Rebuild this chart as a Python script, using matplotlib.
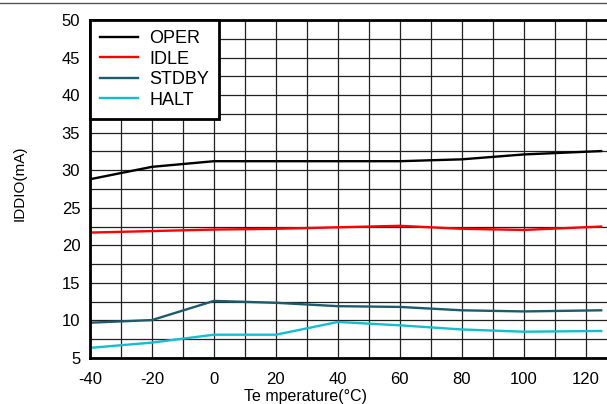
import matplotlib
matplotlib.use("Agg")
import matplotlib.pyplot as plt
from matplotlib.lines import Line2D

plt.rcParams['font.family'] = ['Liberation Sans', 'DejaVu Sans']
plt.rcParams['axes.unicode_minus'] = False

temps = [-40, -20, 0, 20, 40, 60, 80, 100, 125]
oper = [28.8, 30.45, 31.2, 31.2, 31.2, 31.2, 31.45, 32.1, 32.55]
idle = [21.7, 21.9, 22.1, 22.2, 22.4, 22.6, 22.2, 22.05, 22.5]
stdby = [9.7, 10.05, 12.6, 12.35, 11.9, 11.8, 11.35, 11.2, 11.35]
halt = [6.35, 7.05, 8.1, 8.1, 9.8, 9.35, 8.8, 8.5, 8.6]

series_names = ["OPER", "IDLE", "STDBY", "HALT"]
series_vals = [oper, idle, stdby, halt]
series_colors = ["#000000", "#ff0000", "#1b5b6c", "#12bfd2"]

xticks = [-40, -20, 0, 20, 40, 60, 80, 100, 120]
yticks = [5, 10, 15, 20, 25, 30, 35, 40, 45, 50]

W, H = 607, 404
fig = plt.figure(figsize=(W / 100, H / 100), dpi=100)
fig.patch.set_facecolor("white")

x0, x1 = -40, 130
px_per_x = (585.7 - 90) / 160.0
ax_left = 90
ax_w = (x1 - x0) * px_per_x
ax_top, ax_bot = 20, 358
ax = fig.add_axes([ax_left / W, (H - ax_bot) / H, ax_w / W, (ax_bot - ax_top) / H])

ax.set_xlim(x0, x1)
ax.set_ylim(5, 50)

# grid
gx = list(range(-40, 131, 10))
gy = [5 + 2.5 * i for i in range(19)]
for g in gx:
    ax.axvline(g, color="#222222", lw=0.9, zorder=1)
for g in gy:
    ax.axhline(g, color="#222222", lw=0.9, zorder=1)

for name, vals, c in zip(series_names, series_vals, series_colors):
    ax.plot(temps, vals, color=c, lw=1.7, label=name, zorder=3)

ax.set_xticks(xticks)
ax.set_yticks(yticks)
ax.tick_params(axis="both", length=0, labelsize=12)
ax.tick_params(axis="x", pad=10)
ax.tick_params(axis="y", pad=7)

for s in ["left", "top", "bottom"]:
    ax.spines[s].set_linewidth(2.0)
    ax.spines[s].set_color("black")
    ax.spines[s].set_zorder(5)
ax.spines["right"].set_visible(False)

fig.text(20 / W, 1 - 183 / H, "IDDIO(mA)", fontsize=11, rotation=90,
         ha="center", va="center")
fig.text(305 / W, 1 - 396 / H, "Te mperature(°C)", fontsize=11.5,
         ha="center", va="center")

leg = ax.legend(loc="upper left", bbox_to_anchor=(0, 1), borderaxespad=0,
                fontsize=13, frameon=True, fancybox=False, framealpha=1,
                edgecolor="black", handlelength=2.1, handletextpad=0.65,
                labelspacing=0.2, borderpad=0.55)
leg.get_frame().set_linewidth(2.0)
leg.set_zorder(6)

# thin rule at top of figure
fig.add_artist(Line2D([0, 1], [1 - 3 / H, 1 - 3 / H], color="#555555", lw=1.0,
                      transform=fig.transFigure))

fig.savefig("out.png", dpi=100)
